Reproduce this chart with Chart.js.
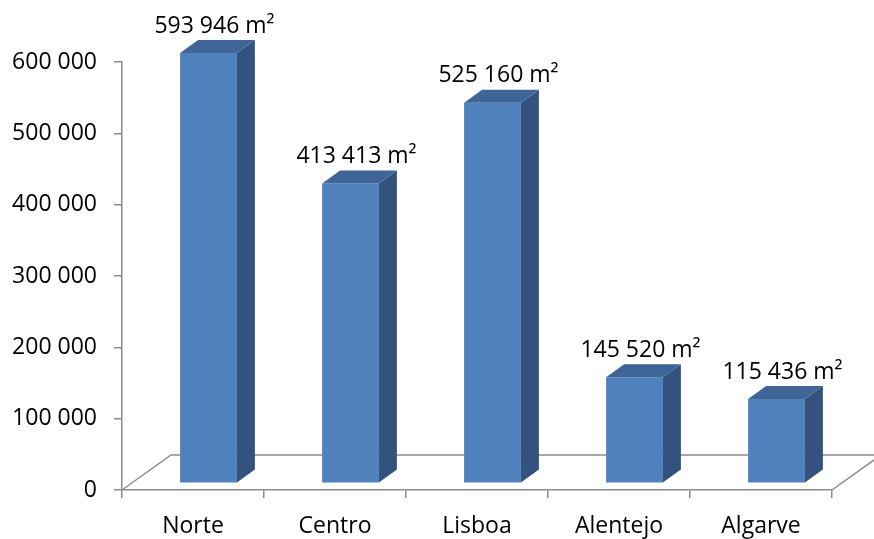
<!DOCTYPE html>
<html>
<head>
<meta charset="utf-8">
<script src="https://cdn.jsdelivr.net/npm/chart.js@4.4.0/dist/chart.umd.min.js"></script>
<style>
  html,body{margin:0;background:#fff}
  canvas{display:block}
</style>
</head>
<body>
<canvas id="areaChart" width="874" height="539"></canvas>
<script>
/* área por região (m²) */
const regions   = ['Norte','Centro','Lisboa','Alentejo','Algarve'];
const areaM2    = [593946, 413413, 525160, 145520, 115436];
const axisTicks = [0,100000,200000,300000,400000,500000,600000];

const FONT  = "'Open Sans', sans-serif";
const FSIZE = 23;
const GRAY  = '#8c8c8c';
const COLS  = {front:'#4f81bd', top:'#3e6596', side:'#33537e'};
const DEPTH = {dx:18, dy:-13};   // profundidade da coluna
const FLOOR = {dx:49, dy:-35};   // profundidade do chão
const SHIFT = 15.5;              // colunas ficam a meio do chão

const fmt = v => String(v).replace(/\B(?=(\d{3})+(?!\d))/g,' ');

/* ── chão, faces laterais/topo e rótulos ── */
const column3d = {
  id:'column3d',
  beforeDatasetsDraw(chart){
    const {ctx, chartArea:{left,right,bottom}} = chart;
    ctx.save();
    ctx.strokeStyle=GRAY; ctx.lineWidth=1.5;
    ctx.beginPath();
    ctx.moveTo(left,bottom);
    ctx.lineTo(left+FLOOR.dx,bottom+FLOOR.dy);
    ctx.lineTo(right+FLOOR.dx,bottom+FLOOR.dy);
    ctx.moveTo(right,bottom);
    ctx.lineTo(right+FLOOR.dx,bottom+FLOOR.dy);
    ctx.stroke();
    ctx.restore();
    ctx.save();
    ctx.translate(SHIFT,0);
  },
  afterDatasetsDraw(chart){
    const ctx = chart.ctx;
    chart.getDatasetMeta(0).data.forEach((bar,i)=>{
      const l=bar.x-bar.width/2, r=bar.x+bar.width/2, t=bar.y, b=bar.base;
      ctx.fillStyle=COLS.side;
      ctx.beginPath();
      ctx.moveTo(r,t); ctx.lineTo(r+DEPTH.dx,t+DEPTH.dy);
      ctx.lineTo(r+DEPTH.dx,b+DEPTH.dy); ctx.lineTo(r,b);
      ctx.closePath(); ctx.fill();

      ctx.fillStyle=COLS.top;
      ctx.beginPath();
      ctx.moveTo(l,t); ctx.lineTo(l+DEPTH.dx,t+DEPTH.dy);
      ctx.lineTo(r+DEPTH.dx,t+DEPTH.dy); ctx.lineTo(r,t);
      ctx.closePath(); ctx.fill();

      ctx.fillStyle='#000';
      ctx.font=`${FSIZE}px ${FONT}`;
      ctx.textAlign='center'; ctx.textBaseline='middle';
      ctx.fillText(fmt(areaM2[i])+' m²', bar.x+6, t-27);
    });
    ctx.restore();
  }
};

new Chart(document.getElementById('areaChart'),{
  type:'bar',
  data:{labels:regions, datasets:[{
    data:areaM2, yAxisID:'yb', clip:false,
    backgroundColor:COLS.front, borderWidth:0,
    categoryPercentage:1, barPercentage:0.4
  }]},
  options:{
    responsive:false, animation:false, devicePixelRatio:1,
    layout:{padding:{top:62,right:42,left:0,bottom:0}},
    plugins:{legend:{display:false}, tooltip:{enabled:false}},
    scales:{
      x:{
        offset:true,
        grid:{offset:true, drawOnChartArea:false, tickLength:8, color:GRAY, lineWidth:1.5},
        border:{color:GRAY, width:1.5},
        ticks:{color:'#000', font:{family:FONT, size:FSIZE}, padding:15},
        afterFit:s=>{ s.height=49; }
      },
      y:{
        min:0, max:600000,
        afterBuildTicks:s=>{ s.ticks=axisTicks.map(v=>({value:v})); },
        grid:{drawOnChartArea:false, tickLength:8, color:GRAY, lineWidth:1.5},
        border:{color:GRAY, width:1.5},
        ticks:{color:'#000', font:{family:FONT, size:FSIZE}, padding:17, callback:v=>fmt(v)},
        afterFit:s=>{ s.width=122; }
      },
      // escala das colunas (mais funda que o eixo frontal)
      yb:{display:false, min:-10373, max:581605}
    }
  },
  plugins:[column3d]
});
</script>
</body>
</html>
